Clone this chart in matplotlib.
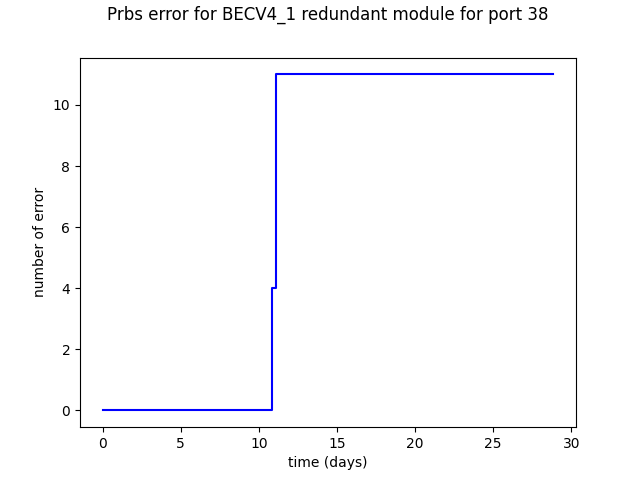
import matplotlib
matplotlib.use("Agg")
import matplotlib.pyplot as plt

# elapsed time (days) and cumulative prbs error count
time_days = [0, 10.82, 11.07, 28.86]
n_errors = [0, 4, 11, 11]

fig = plt.figure(figsize=(6.4, 4.8), dpi=100)
plt.step(time_days, n_errors, where='post', color='blue')
plt.xlabel('time (days)')
plt.ylabel('number of error')
plt.title('Prbs error for BECV4_1 redundant module for port 38', y=1.08)
plt.savefig('out.png')
